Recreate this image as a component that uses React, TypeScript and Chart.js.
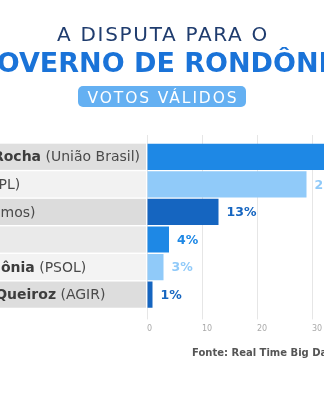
import React, { useEffect, useRef } from "react";
import { Chart, registerables } from "chart.js";

Chart.register(...registerables);

// ---- data ----
const candidates = [
  "Coronel Marcos Rocha",
  "Marcos Rogério",
  "Léo Moraes",
  "Daniel Pereira",
  "Pimenta de Rondônia",
  "Professor Jhony Queiroz",
];
const parties = ["(União Brasil)", "(PL)", "(Podemos)", "", "(PSOL)", "(AGIR)"];
const votes = [50, 29, 13, 4, 3, 1];
const xMin = 0;
const xMax = 50;
const xStep = 10;

const titleLine1 = "A DISPUTA PARA O";
const titleLine2 = "GOVERNO DE RONDÔNIA";
const badgeText = "VOTOS VÁLIDOS";
const sourceText = "Fonte: Real Time Big Data";

// ---- styles ----
const barColors = ["#1e88e5", "#90caf9", "#1565c0", "#1e88e5", "#90caf9", "#1565c0"];
const bandColors = ["#dfdfdf", "#f2f2f2", "#dcdcdc", "#eaeaea", "#f3f3f3", "#dddddd"];
const FONT = "'DejaVu Sans', sans-serif";
const CANVAS_W = 600;
const CANVAS_H = 400;
const VIEW_W = 324;
const OFFSET = (CANVAS_W - VIEW_W) / 2;
const LABEL_X = 4;

const decorPlugin = {
  id: "decor",
  beforeDraw(chart: any) {
    const ctx = chart.ctx as any;
    const cx = chart.width / 2;
    ctx.save();
    ctx.fillStyle = "#ffffff";
    ctx.fillRect(0, 0, chart.width, chart.height);

    ctx.textAlign = "center";
    ctx.textBaseline = "alphabetic";
    // title line 1
    ctx.letterSpacing = "1.7px";
    ctx.font = `20px ${FONT}`;
    ctx.fillStyle = "#1f3c6e";
    ctx.fillText(titleLine1, cx + 1, 40.5);
    // title line 2
    ctx.letterSpacing = "0px";
    ctx.font = `bold 27px ${FONT}`;
    ctx.fillStyle = "#1a73d8";
    ctx.fillText(titleLine2, cx, 72);
    // badge
    const bw = 168;
    const bx = cx - bw / 2;
    ctx.fillStyle = "#64b0f2";
    ctx.beginPath();
    if (ctx.roundRect) ctx.roundRect(bx, 86, bw, 21, 5);
    else ctx.rect(bx, 86, bw, 21);
    ctx.fill();
    ctx.letterSpacing = "1.9px";
    ctx.font = `15.5px ${FONT}`;
    ctx.fillStyle = "#ffffff";
    ctx.fillText(badgeText, cx + 1, 102.5);
    // source
    ctx.letterSpacing = "0px";
    ctx.textAlign = "left";
    ctx.font = `bold 10px ${FONT}`;
    ctx.fillStyle = "#555555";
    ctx.fillText(sourceText, OFFSET + 192, 356);
    ctx.restore();
  },
  beforeDatasetsDraw(chart: any) {
    const ctx = chart.ctx;
    const meta = chart.getDatasetMeta(0);
    const left = chart.chartArea.left;
    ctx.save();
    meta.data.forEach((bar: any, i: number) => {
      const { y, height } = bar.getProps(["y", "height"], true);
      ctx.fillStyle = bandColors[i % bandColors.length];
      ctx.fillRect(0, y - height / 2, left - 1, height);
      ctx.textBaseline = "middle";
      ctx.textAlign = "left";
      ctx.fillStyle = "#3d3d3d";
      ctx.font = `bold 14px ${FONT}`;
      ctx.fillText(candidates[i], LABEL_X, y + 1);
      const w = ctx.measureText(candidates[i]).width;
      if (parties[i]) {
        ctx.font = `14px ${FONT}`;
        ctx.fillStyle = "#4a4a4a";
        ctx.fillText(" " + parties[i], LABEL_X + w, y + 1);
      }
    });
    ctx.restore();
  },
  afterDatasetsDraw(chart: any) {
    const ctx = chart.ctx;
    const meta = chart.getDatasetMeta(0);
    ctx.save();
    meta.data.forEach((bar: any, i: number) => {
      const { x, y } = bar.getProps(["x", "y"], true);
      ctx.textBaseline = "middle";
      ctx.textAlign = "left";
      ctx.font = `bold 12.5px ${FONT}`;
      ctx.fillStyle = barColors[i % barColors.length];
      ctx.fillText(votes[i] + "%", x + 8, y + 1);
    });
    ctx.restore();
  },
};

export default function App() {
  const ref = useRef<HTMLCanvasElement | null>(null);
  useEffect(() => {
    if (!ref.current) return;
    Chart.defaults.font.family = FONT;
    const chart = new Chart(ref.current, {
      type: "bar",
      data: {
        labels: candidates,
        datasets: [
          {
            data: votes,
            backgroundColor: barColors,
            borderWidth: 0,
            barPercentage: 0.95,
            categoryPercentage: 1,
            xAxisID: "x",
          },
        ],
      },
      options: {
        indexAxis: "y",
        responsive: false,
        animation: false,
        devicePixelRatio: 1,
        layout: {
          padding: { left: OFFSET + 147, right: 40, top: 135, bottom: 61 },
        },
        plugins: {
          legend: { display: false },
          tooltip: { enabled: false },
        },
        scales: {
          x: {
            type: "linear",
            position: "bottom",
            min: xMin,
            max: xMax,
            border: { display: false },
            grid: { color: "#e6e6e6", tickLength: 11, drawTicks: true },
            ticks: {
              stepSize: xStep,
              align: "start",
              padding: 5,
              color: "#aaaaaa",
              font: { size: 8, family: FONT },
            },
          },
          xTop: {
            type: "linear",
            position: "top",
            min: xMin,
            max: xMax,
            border: { display: false },
            grid: { color: "#e6e6e6", tickLength: 8, drawOnChartArea: false },
            ticks: { stepSize: xStep, display: false },
          },
          y: {
            type: "category",
            display: false,
            grid: { display: false },
          },
        },
      },
      plugins: [decorPlugin],
    } as any);
    return () => chart.destroy();
  }, []);

  return (
    <div
      style={{
        position: "fixed",
        left: 0,
        top: 0,
        width: VIEW_W,
        height: CANVAS_H,
        overflow: "hidden",
        background: "#ffffff",
      }}
    >
      <canvas
        ref={ref}
        width={CANVAS_W}
        height={CANVAS_H}
        style={{ position: "absolute", left: -OFFSET, top: 0, width: CANVAS_W, height: CANVAS_H }}
      />
    </div>
  );
}
